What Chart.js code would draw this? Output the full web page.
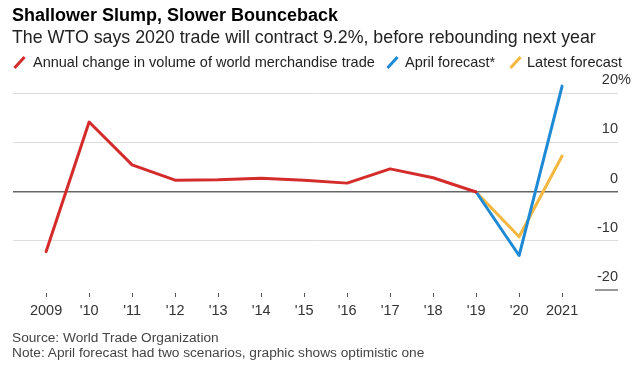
<!DOCTYPE html>
<html lang="en">
<head>
<meta charset="UTF-8">
<title>Shallower Slump, Slower Bounceback</title>
<script src="https://cdn.jsdelivr.net/npm/chart.js"></script>
<style>
    * { margin: 0; padding: 0; box-sizing: border-box; }
    body { width: 640px; height: 366px; background: #fff; font-family: 'Liberation Sans', Arial, sans-serif; position: relative; overflow: hidden; }
    #chart { position: absolute; left: 0; top: 0; }
    .title { position: absolute; left: 12px; top: 5px; font-size: 18px; font-weight: bold; color: #000; white-space: nowrap; }
    .subtitle { position: absolute; left: 12px; top: 27px; font-size: 17.8px; color: #222; white-space: nowrap; }
    .legend { position: absolute; top: 54px; font-size: 14.5px; color: #222; white-space: nowrap; }
    .mark { position: absolute; top: 55px; width: 3px; height: 15px; transform: rotate(42deg); }
    .footer { position: absolute; left: 12px; top: 330px; font-size: 13.7px; line-height: 15px; color: #444; white-space: nowrap; }
</style>
</head>
<body>
    <canvas id="chart" width="640" height="366"></canvas>
    <div class="title">Shallower Slump, Slower Bounceback</div>
    <div class="subtitle">The WTO says 2020 trade will contract 9.2%, before rebounding next year</div>
    <span class="mark" style="left:18px;background:#d42b2b"></span>
    <div class="legend" style="left:33px">Annual change in volume of world merchandise trade</div>
    <span class="mark" style="left:391px;background:#1e8ad6"></span>
    <div class="legend" style="left:405px">April forecast*</div>
    <span class="mark" style="left:514px;background:#f4b73f"></span>
    <div class="legend" style="left:527px">Latest forecast</div>
    <div class="footer">Source: World Trade Organization<br>Note: April forecast had two scenarios, graphic shows optimistic one</div>
    <script>
        const years = [2009, 2010, 2011, 2012, 2013, 2014, 2015, 2016, 2017, 2018, 2019, 2020, 2021];
        const yearLabels = ["2009", "'10", "'11", "'12", "'13", "'14", "'15", "'16", "'17", "'18", "'19", "'20", "2021"];
        const actual = [-12.2, 14.1, 5.4, 2.3, 2.4, 2.7, 2.3, 1.7, 4.6, 2.8, -0.1, null, null];
        const aprilForecast = [null, null, null, null, null, null, null, null, null, null, -0.1, -13.0, 21.4];
        const latestForecast = [null, null, null, null, null, null, null, null, null, null, -0.1, -9.2, 7.2];
        const yTicks = [-20, -10, 0, 10, 20];

        const toPoints = arr => years.map((x, i) => ({ x: x, y: arr[i] }));

        const axisText = {
            id: 'axisText',
            afterDraw(chart) {
                const ctx = chart.ctx, xs = chart.scales.x, ys = chart.scales.y;
                const right = chart.chartArea.right;
                ctx.save();
                ctx.font = "14.5px 'Liberation Sans', Arial, sans-serif";
                ctx.fillStyle = '#333';
                ctx.textBaseline = 'middle';
                yTicks.forEach(v => {
                    const y = ys.getPixelForValue(v) - 13;
                    ctx.textAlign = 'right';
                    ctx.fillText(String(v), right, y);
                    if (v === 20) { ctx.textAlign = 'left'; ctx.fillText('%', right, y); }
                });
                // short stub under the -20 label
                ctx.strokeStyle = '#777';
                ctx.lineWidth = 1.5;
                ctx.beginPath();
                const yb = ys.getPixelForValue(-20);
                ctx.moveTo(right - 23, yb); ctx.lineTo(right, yb);
                ctx.stroke();
                // x tick marks
                ctx.strokeStyle = '#555';
                ctx.lineWidth = 1;
                years.forEach(yr => {
                    const x = Math.round(xs.getPixelForValue(yr)) + 0.5;
                    ctx.beginPath();
                    ctx.moveTo(x, yb + 3); ctx.lineTo(x, yb + 7);
                    ctx.stroke();
                });
                ctx.restore();
            }
        };

        new Chart(document.getElementById('chart'), {
            type: 'line',
            data: {
                datasets: [
                    { label: 'Annual change in volume of world merchandise trade', data: toPoints(actual), borderColor: '#d42b2b' },
                    { label: 'April forecast*', data: toPoints(aprilForecast), borderColor: '#1e8ad6' },
                    { label: 'Latest forecast', data: toPoints(latestForecast), borderColor: '#f4b73f' }
                ]
            },
            options: {
                responsive: false,
                animation: false,
                layout: { padding: { left: 13, right: 22, top: 93, bottom: 40 } },
                elements: {
                    line: { borderWidth: 3, tension: 0, borderJoinStyle: 'round', borderCapStyle: 'round' },
                    point: { radius: 0 }
                },
                datasets: { line: { clip: false, spanGaps: false } },
                plugins: { legend: { display: false }, tooltip: { enabled: false } },
                scales: {
                    x: {
                        type: 'linear',
                        min: 2008.23,
                        max: 2022.3,
                        afterBuildTicks: s => { s.ticks = years.map(v => ({ value: v })); },
                        afterFit: s => { s.height = 36; },
                        grid: { display: false, drawTicks: false },
                        border: { display: false },
                        ticks: {
                            padding: 12,
                            autoSkip: false,
                            maxRotation: 0,
                            color: '#333',
                            font: { family: "'Liberation Sans', Arial, sans-serif", size: 14.5 },
                            callback: v => yearLabels[years.indexOf(v)]
                        }
                    },
                    y: {
                        position: 'right',
                        min: -20,
                        max: 20,
                        afterBuildTicks: s => { s.ticks = yTicks.map(v => ({ value: v })); },
                        afterFit: s => { s.width = 0; },
                        ticks: { display: false },
                        border: { display: false },
                        grid: {
                            drawTicks: false,
                            color: c => c.tick.value === 0 ? '#666' : (c.tick.value === -20 ? 'rgba(0,0,0,0)' : '#ddd'),
                            lineWidth: c => c.tick.value === 0 ? 1.5 : 1
                        }
                    }
                }
            },
            plugins: [axisText]
        });
    </script>
</body>
</html>
